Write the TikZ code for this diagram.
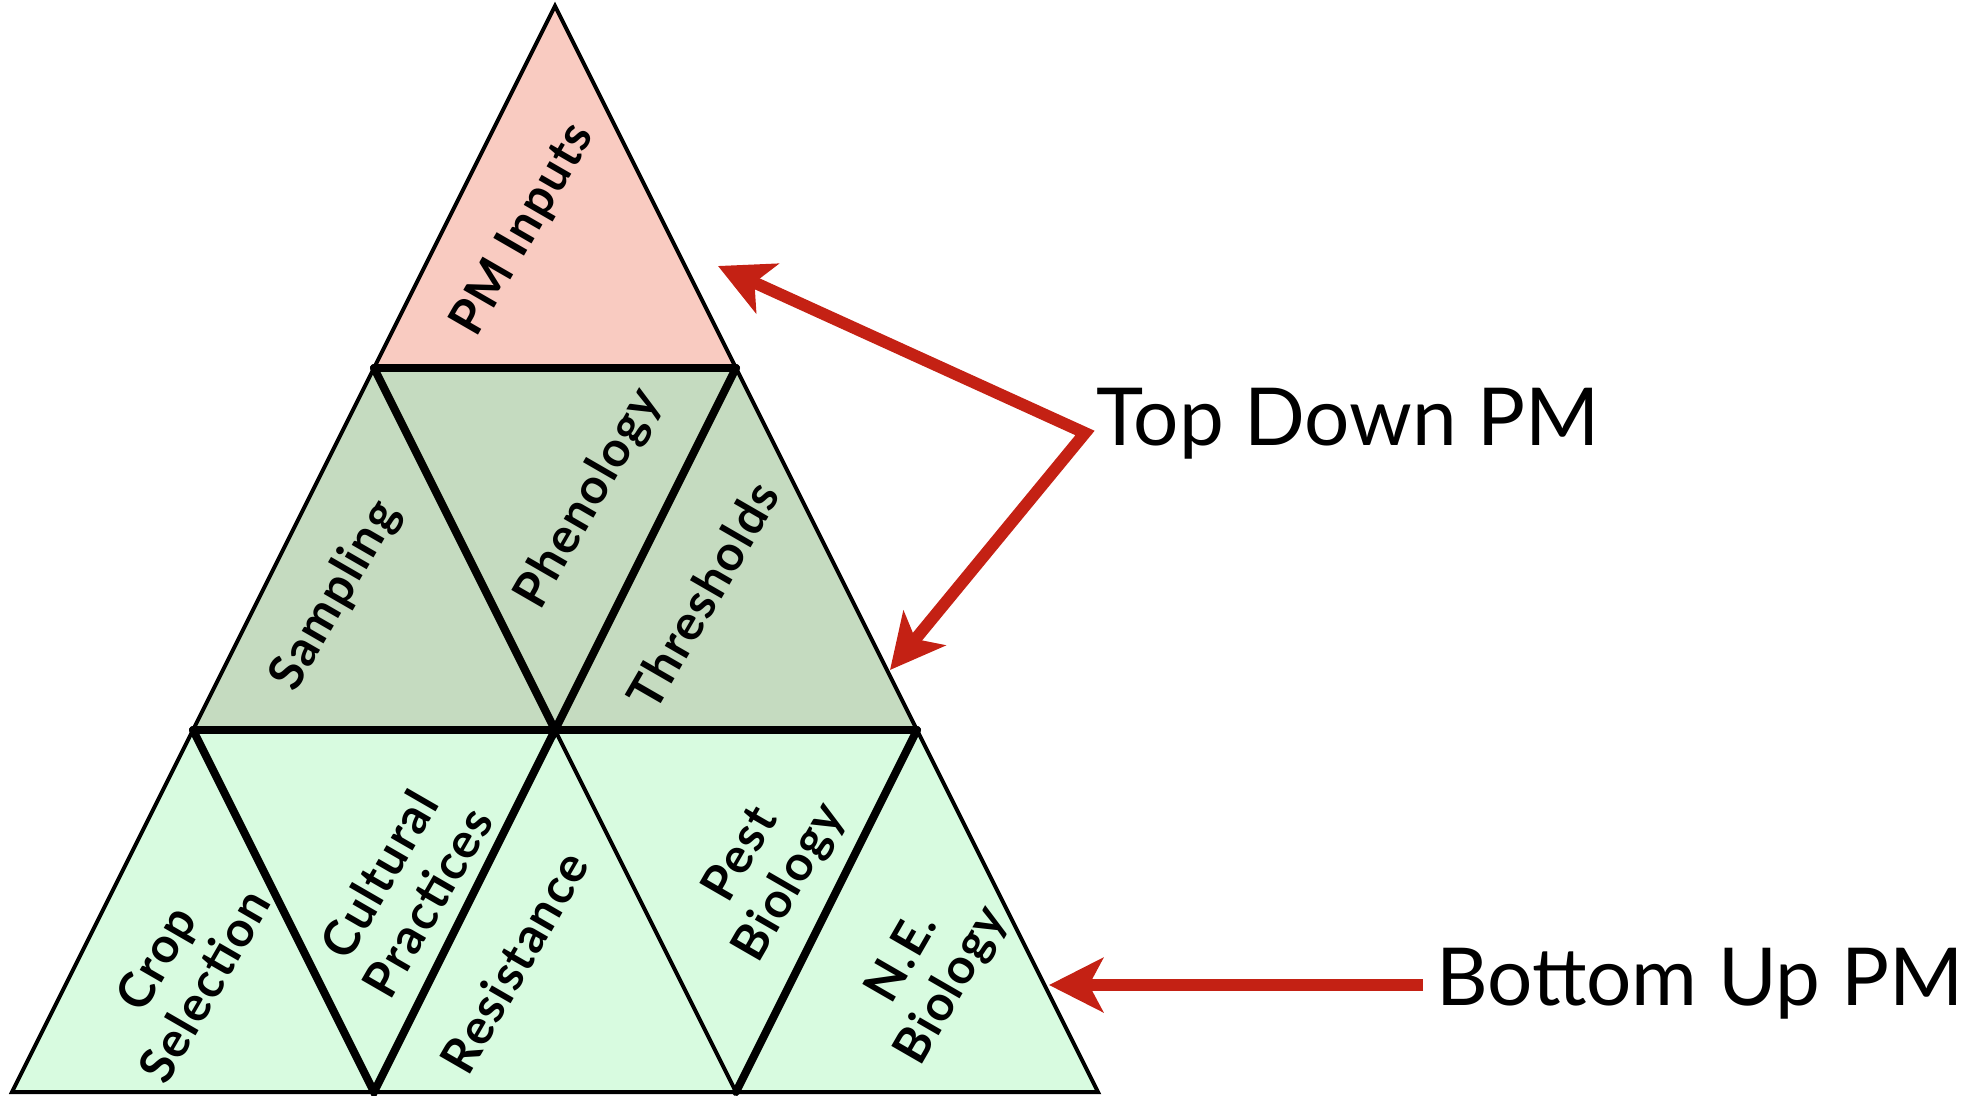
\documentclass[tikz,border=0pt]{standalone}
\usepackage{fontspec}
\setmainfont{Lato}
\usetikzlibrary{arrows.meta}
\definecolor{pinkfill}{HTML}{F9CBC1}
\definecolor{midfill}{HTML}{C5DBC0}
\definecolor{lowfill}{HTML}{D8FBE0}
\definecolor{arrowred}{HTML}{C42114}
\begin{document}
\begin{tikzpicture}[x=1pt,y=-1pt,
  thinline/.style={line width=4pt,line join=miter},
  thickline/.style={line width=8pt,line cap=round},
  lbl/.style={font=\fontsize{49}{56}\selectfont\bfseries\addfontfeatures{LetterSpace=3},rotate=60,align=center,inner sep=0pt},
  side/.style={font=\fontsize{80}{90}\selectfont,anchor=base west,inner sep=0pt},
  redhead/.tip={Stealth[length=54pt,width=54pt,inset=14pt]},
  redarrow/.style={draw=arrowred,line width=12pt,line join=miter}
]
\useasboundingbox (0,0) rectangle (1975,1095);
% vertices
\coordinate (A) at (555,6);
\coordinate (L1) at (374,368);
\coordinate (R1) at (736,368);
\coordinate (L2) at (193,730);
\coordinate (M2) at (555,730);
\coordinate (R2) at (917,730);
\coordinate (L3) at (12,1092);
\coordinate (B1) at (374,1092);
\coordinate (B2) at (736,1092);
\coordinate (R3) at (1098,1092);
% fills
\fill[pinkfill] (A) -- (L1) -- (R1) -- cycle;
\fill[midfill] (L1) -- (R1) -- (R2) -- (L2) -- cycle;
\fill[lowfill] (L2) -- (R2) -- (R3) -- (L3) -- cycle;
% thin lines
\draw[thinline] (A) -- (L3) -- (R3) -- cycle;
\draw[thinline] (M2) -- (B2);
% thick lines
\draw[thickline] (L1) -- (R1);
\draw[thickline] (L2) -- (R2);
\draw[thickline] (L1) -- (M2) -- (R1);
\draw[thickline] (L2) -- (B1) -- (M2);
\draw[thickline] (R2) -- (B2);
% labels
\node[lbl] (pmin) at (524,230) {PM Inputs};
\node[lbl] (samp) at (336,596) {Sampling};
\node[lbl] (phen) at (589,499) {Phenology};
\node[lbl] (thre) at (703,595) {Thresholds};
\node[lbl] (crop) at (180,972) {Crop\\Selection};
\node[lbl] (cult) at (403,888) {Cultural\\Practices};
\node[lbl] (resi) at (514,962) {Resistance};
\node[lbl] (pest) at (766,869) {Pest\\Biology};
\node[lbl] (nebi) at (928,972) {N.E.\\Biology};
% side texts
\node[side] (td) at (1096,445) {Top Down PM};
\node[side] (bu) at (1436,1005) {Bottom Up PM};
% arrows
\coordinate (j) at (1085,433);
\coordinate (tip1) at (718,266);
\coordinate (tip2) at (890,670);
\coordinate (bstart) at (1423,985);
\coordinate (tip3) at (1049,985);
\draw[redarrow,redhead-redhead] (tip1) -- (j) -- (tip2);
\draw[redarrow,-redhead] (bstart) -- (tip3);
\end{tikzpicture}
\end{document}
